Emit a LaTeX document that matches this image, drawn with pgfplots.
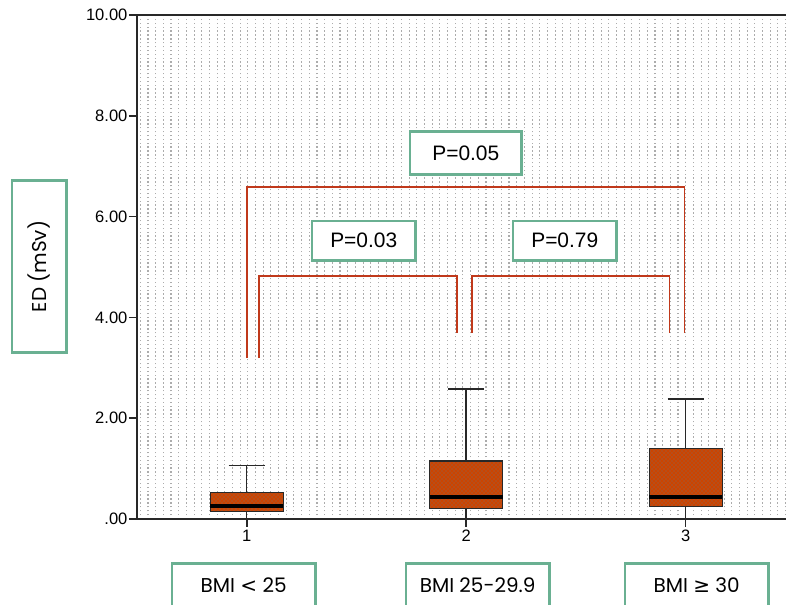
\documentclass[border=0pt]{standalone}
\usepackage{pgfplots}
\pgfplotsset{compat=1.18}
\usepgfplotslibrary{statistics}
\usetikzlibrary{patterns}
\usepackage{fontspec}
\setmainfont{Liberation Sans}
\newfontfamily\gothic{Poppins}
\newfontfamily\symf{DejaVu Sans}

\definecolor{boxor}{RGB}{204,68,0}
\definecolor{brk}{RGB}{192,57,27}
\definecolor{grn}{RGB}{106,176,146}
\definecolor{axl}{RGB}{40,40,40}

\tikzset{lbl/.style={draw=grn, line width=2pt, fill=white, inner sep=0pt}}

\begin{document}
\begin{tikzpicture}
\begin{axis}[
  at={(0pt,0pt)}, anchor=south west,
  scale only axis, width=486.75pt, height=378pt,
  xmin=0.5, xmax=3.457, ymin=0, ymax=10,
  axis lines=left, axis line style={-, line width=1.5pt, color=axl},
  clip=false,
  xtick={1,2,3}, xticklabels={1,2,3},
  minor xtick={0.515,0.55,...,3.45},
  xminorgrids=true,
  minor grid style={gray!65, line width=0.8pt, dash pattern=on 1pt off 1.9pt},
  minor tick length=0pt,
  ytick={0,2,4,6,8,10}, yticklabels={.00,2.00,4.00,6.00,8.00,10.00},
  tick align=outside, tick style={line width=1.2pt, color=axl},
  major tick length=6pt,
  ticklabel style={font=\fontsize{12.4}{14}\selectfont},
  yticklabel style={inner sep=1pt},
  xticklabel style={inner sep=2pt},
  boxplot/draw direction=y,
  boxplot/every box/.style={draw=axl, line width=0.8pt, fill=boxor, postaction={pattern=crosshatch dots, pattern color=black!55}},
  boxplot/every median/.style={line width=3.2pt, black},
  boxplot/every whisker/.style={line width=1.1pt, axl},
]
\addplot[draw=axl, boxplot prepared={lower whisker=0, lower quartile=0.15, median=0.26, upper quartile=0.53, upper whisker=1.06, draw position=1, box extend=0.333, whisker extend=0.164}] coordinates {};
\addplot[draw=axl, boxplot prepared={lower whisker=0, lower quartile=0.20, median=0.44, upper quartile=1.15, upper whisker=2.58, draw position=2, box extend=0.333, whisker extend=0.164}] coordinates {};
\addplot[draw=axl, boxplot prepared={lower whisker=0, lower quartile=0.24, median=0.43, upper quartile=1.39, upper whisker=2.38, draw position=3, box extend=0.333, whisker extend=0.164}] coordinates {};

\draw[axl, line width=1.5pt] (rel axis cs:0,1) -- (rel axis cs:1,1);
\draw[axl, line width=1.5pt] (rel axis cs:0,0) -- (rel axis cs:1,0);

\draw[brk, line width=1.2pt] (axis cs:1,3.19) -- (axis cs:1,6.59) -- (axis cs:2.995,6.59) -- (axis cs:2.995,3.69);
\draw[brk, line width=1.2pt] (axis cs:1.055,3.19) -- (axis cs:1.055,4.82) -- (axis cs:1.957,4.82) -- (axis cs:1.957,3.69);
\draw[brk, line width=1.2pt] (axis cs:2.025,3.69) -- (axis cs:2.025,4.82) -- (axis cs:2.927,4.82) -- (axis cs:2.927,3.69);

\node[lbl, minimum width=83.5pt, minimum height=32.5pt, font=\fontsize{15.7}{18}\selectfont] at (axis cs:1.998,7.26) {P=0.05};
\node[lbl, minimum width=77.5pt, minimum height=29.5pt, font=\fontsize{15.7}{18}\selectfont] at (axis cs:1.533,5.52) {P=0.03};
\node[lbl, minimum width=77.5pt, minimum height=29.5pt, font=\fontsize{15.7}{18}\selectfont] at (axis cs:2.449,5.52) {P=0.79};

\node[lbl, rotate=90, minimum width=129.25pt, minimum height=40.75pt, font=\gothic\fontsize{15}{18}\selectfont] at (axis cs:0.0547,5.01) {ED (mSv)};

\node[lbl, minimum width=107.5pt, minimum height=32.5pt, font=\gothic\fontsize{15}{18}\selectfont] at (axis cs:0.986,-1.31) {BMI {\symf <} 25};
\node[lbl, minimum width=107.5pt, minimum height=32.5pt, font=\gothic\fontsize{15}{18}\selectfont] at (axis cs:2.052,-1.31) {BMI 25-29.9};
\node[lbl, minimum width=107.5pt, minimum height=32.5pt, font=\gothic\fontsize{15}{18}\selectfont] at (axis cs:3.05,-1.31) {BMI {\symf ≥} 30};
\end{axis}
\pgfresetboundingbox
\path[use as bounding box] (-102.75pt,-64.5pt) rectangle (486.75pt,389.25pt);
\end{tikzpicture}
\end{document}
